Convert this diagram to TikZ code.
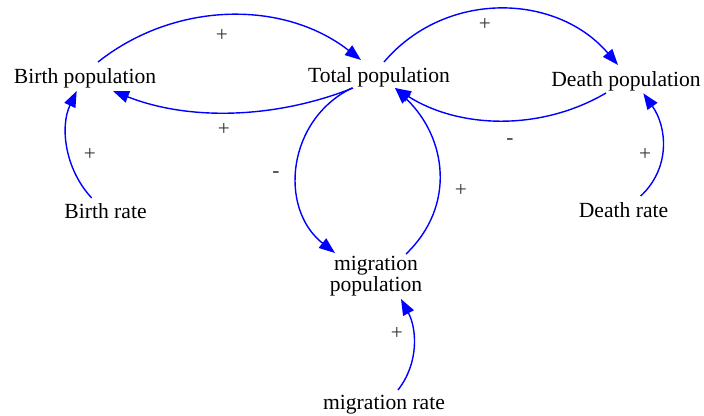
\documentclass[tikz,border=0pt]{standalone}
\usepackage{fontspec}
\setmainfont{Liberation Serif}
\usetikzlibrary{arrows.meta}
\begin{document}
\begin{tikzpicture}[x=1pt,y=1pt,
  var/.style={inner sep=0pt, anchor=base, font=\fontsize{21.6}{18}\selectfont, text=black},
  lbl/.style={inner sep=0pt, font=\fontsize{21.3}{24}\selectfont, text=black!80},
  link/.style={draw=blue, line width=1.4pt, -{Triangle[length=16pt,width=12pt]}}]
\useasboundingbox (0,0) rectangle (704,-415);
% variables
\node[var] (bp) at (85,-83) {Birth population};
\node[var] (tp) at (379,-82) {Total population};
\node[var] (dp) at (626,-86) {Death population};
\node[var] (br) at (105.5,-218) {Birth rate};
\node[var] (dr) at (623.5,-217) {Death rate};
\node[var, align=center] (mp) at (376,-291) {migration\\population};
\node[var] (mr) at (384,-409) {migration rate};
% links
\draw[link] ([shift={(13,21)}]bp.base) .. controls +(77,61) and +(-77.5,60.3) .. ([shift={(-18,22)}]tp.base);
\draw[link] ([shift={(-26,-6)}]tp.base) .. controls +(-76.6,-30.5) and +(76.7,-30.3) .. ([shift={(28,-8)}]bp.base);
\draw[link] ([shift={(5,20)}]tp.base) .. controls +(61.4,72.2) and +(-61.6,72.1) .. ([shift={(-8,21)}]dp.base);
\draw[link] ([shift={(-20,-7)}]dp.base) .. controls +(-65.4,-38.4) and +(64.1,-40.7) .. ([shift={(16,-6)}]tp.base);
\draw[link] ([shift={(-27,-6)}]tp.base) .. controls +(-65.1,-31.6) and +(-56.8,44.7) .. ([shift={(-41,38)}]mp.base);
\draw[link] ([shift={(30,37)}]mp.base) .. controls +(50,48) and +(52,-50) .. ([shift={(16,-6)}]tp.base);
\draw[link] ([shift={(-13.8,20)}]br.base) .. controls +(-26.9,28.9) and +(-16.9,-35.7) .. ([shift={(-8.3,-8)}]bp.base);
\draw[link] ([shift={(17.2,21)}]dr.base) .. controls +(30,28) and +(24,-34) .. ([shift={(17.3,-7.3)}]dp.base);
\draw[link] ([shift={(14,19)}]mr.base) .. controls +(21,27) and +(16,-30) .. ([shift={(25,-8)}]mp.base);
% polarity labels
\node[lbl] (l1) at (222,-35) {+};
\node[lbl] (l2) at (224,-129) {+};
\node[lbl] (l3) at (485,-24) {+};
\node[lbl] (l4) at (510,-142) {-};
\node[lbl] (l5) at (276,-175) {-};
\node[lbl] (l6) at (461,-190) {+};
\node[lbl] (l7) at (90,-154) {+};
\node[lbl] (l8) at (645,-154) {+};
\node[lbl] (l9) at (397,-333) {+};
\end{tikzpicture}
\end{document}
